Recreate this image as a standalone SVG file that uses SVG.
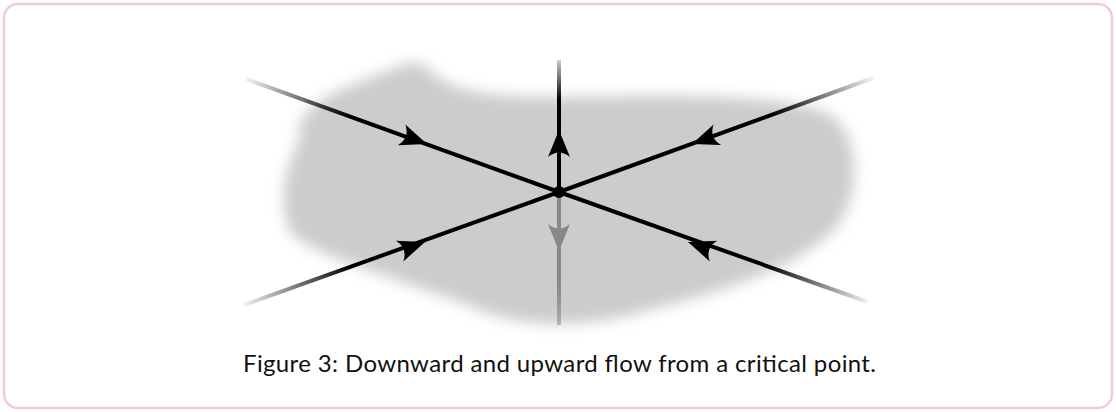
<svg xmlns="http://www.w3.org/2000/svg" width="1116" height="412" viewBox="0 0 1116 412">
<style>
.ln{stroke-width:4;fill:none;stroke-linecap:butt}
.cap{font-family:Lato,"Liberation Sans",Arial,sans-serif;font-size:24px;fill:#111}
</style>
<defs>
<filter id="blur" x="-20%" y="-30%" width="140%" height="160%"><feGaussianBlur stdDeviation="7"/></filter>
<path id="arr" d="M0,0 L-27,-11 Q-18,0 -27,11 Z"/>
<linearGradient id="gUL" gradientUnits="userSpaceOnUse" x1="246" y1="79" x2="350" y2="117"><stop offset="0" stop-color="#000" stop-opacity="0.05"/><stop offset="1" stop-color="#000"/></linearGradient>
<linearGradient id="gLL" gradientUnits="userSpaceOnUse" x1="244" y1="305" x2="350" y2="267"><stop offset="0" stop-color="#000" stop-opacity="0.05"/><stop offset="1" stop-color="#000"/></linearGradient>
<linearGradient id="gUR" gradientUnits="userSpaceOnUse" x1="873" y1="78" x2="770" y2="115"><stop offset="0" stop-color="#000" stop-opacity="0.05"/><stop offset="1" stop-color="#000"/></linearGradient>
<linearGradient id="gLR" gradientUnits="userSpaceOnUse" x1="868" y1="302" x2="765" y2="265"><stop offset="0" stop-color="#000" stop-opacity="0.05"/><stop offset="1" stop-color="#000"/></linearGradient>
<linearGradient id="gUp" gradientUnits="userSpaceOnUse" x1="0" y1="60" x2="0" y2="100"><stop offset="0" stop-color="#000" stop-opacity="0.2"/><stop offset="1" stop-color="#000"/></linearGradient>
<linearGradient id="gDn" gradientUnits="userSpaceOnUse" x1="0" y1="325" x2="0" y2="285"><stop offset="0" stop-color="#888" stop-opacity="0.5"/><stop offset="1" stop-color="#888"/></linearGradient>
</defs>
<rect x="4" y="4" width="1108" height="404" rx="14" ry="14" fill="#fff" stroke="#f4cccc" stroke-width="2.5"/>
<path id="blob" filter="url(#blur)" fill="#cccccc" d="M300,140 C292,112 330,92 370,78 C398,66 418,56 430,70 C448,92 495,97 560,97 C650,96 760,92 820,110 C864,124 862,200 834,230 C794,270 720,292 650,310 C590,328 520,330 470,306 C420,286 332,262 296,238 C276,218 282,170 300,140 Z"/>
<g id="connectors">
<line class="ln" x1="246" y1="79" x2="559" y2="192" stroke="url(#gUL)"/>
<line class="ln" x1="244" y1="305" x2="559" y2="192" stroke="url(#gLL)"/>
<line class="ln" x1="873" y1="78" x2="559" y2="192" stroke="url(#gUR)"/>
<line class="ln" x1="868" y1="302" x2="559" y2="192" stroke="url(#gLR)"/>
<line class="ln" x1="559" y1="60" x2="559" y2="192" stroke="url(#gUp)"/>
<line class="ln" x1="559" y1="325" x2="559" y2="192" stroke="url(#gDn)"/>
<use href="#arr" transform="translate(427,144) rotate(19.85)"/>
<use href="#arr" transform="translate(425,242) rotate(-19.7)"/>
<use href="#arr" transform="translate(692,144) rotate(160)"/>
<use href="#arr" transform="translate(688,242) rotate(199.6)"/>
<use href="#arr" transform="translate(559,130) rotate(-90)"/>
<use href="#arr" fill="#888" transform="translate(559,251) rotate(90)"/>
</g>
<g id="critical-point"><circle cx="559" cy="192" r="6" fill="#000"/></g>
<text class="cap" x="243" y="372" textLength="633" lengthAdjust="spacing">Figure 3:  Downward and upward flow from a critical point.</text>
</svg>
